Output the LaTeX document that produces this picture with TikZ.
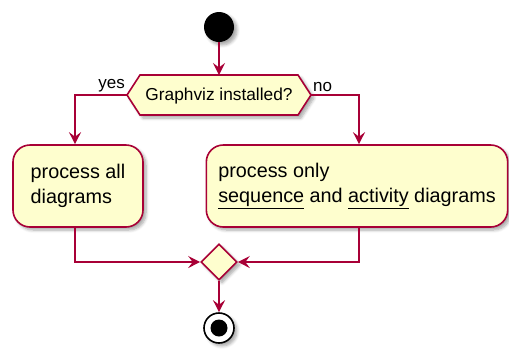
\documentclass[tikz,border=0pt]{standalone}
\usepackage{fontspec}
\setmainfont{Liberation Sans}
\usetikzlibrary{arrows.meta,shapes.geometric,shadows.blur}
\definecolor{umlfill}{HTML}{FEFECE}
\definecolor{umlline}{HTML}{A80036}
\tikzset{
  shd/.style={blur shadow={shadow xshift=3pt,shadow yshift=-3pt,shadow blur steps=6,shadow opacity=35,shadow blur radius=3pt}},
  actbox/.style={draw=umlline,fill=umlfill,line width=1.6pt,rounded corners=17pt,shd,
    align=left,inner ysep=0pt,minimum height=82pt,font=\fontsize{19.8}{25}\selectfont},
  flow/.style={draw=umlline,line width=1.6pt,-{Stealth[length=12pt,width=12pt,inset=4.5pt]}},
  lbl/.style={font=\fontsize{17}{20}\selectfont,inner sep=1pt}
}
\begin{document}
\begin{tikzpicture}[x=1pt,y=-1pt]
\useasboundingbox (0,0) rectangle (509,349);
% start
\node[circle,fill=black,minimum size=30pt,inner sep=0pt,shd] (start) at (219,27) {};
% decision hexagon
\coordinate (hl) at (127,95);
\coordinate (hr) at (311,95);
\coordinate (ht) at (219,75);
\filldraw[draw=umlline,fill=umlfill,line width=1.6pt,shd]
  (hl) -- (140,75) -- (298,75) -- (hr) -- (298,115) -- (140,115) -- cycle;
\node[font=\fontsize{17.3}{20}\selectfont] (q) at (219,96) {Graphviz installed?};
\node[lbl,anchor=south east] (yes) at (126,93) {yes};
\node[lbl,anchor=south west] (no) at (312,93) {no};
% boxes
\node[actbox,minimum width=130pt,inner xsep=15pt] (all) at (78,186)
  {process all\\diagrams};
\node[actbox,minimum width=300pt,inner xsep=12pt] (only) at (357,186)
  {process only\\\underline{sequence} and \underline{activity} diagrams};
% merge
\node[diamond,draw=umlline,fill=umlfill,line width=1.6pt,minimum width=36pt,minimum height=36pt,inner sep=0pt,shd] (m) at (219,262) {};
% end
\node[circle,draw=black,fill=white,line width=1.6pt,minimum size=30pt,inner sep=0pt,shd] (end) at (219,328) {};
\node[circle,fill=black,minimum size=17pt,inner sep=0pt] (endin) at (end.center) {};
% connectors
\draw[flow] (start) -- (ht);
\draw[flow] (hl) -| (all.north -| 75,0);
\draw[flow] (hr) -| (only.north -| 359,0);
\draw[flow] (all.south -| 75,0) |- (m.west);
\draw[flow] (only.south -| 359,0) |- (m.east);
\draw[flow] (m.south) -- (end.north);
\end{tikzpicture}
\end{document}
